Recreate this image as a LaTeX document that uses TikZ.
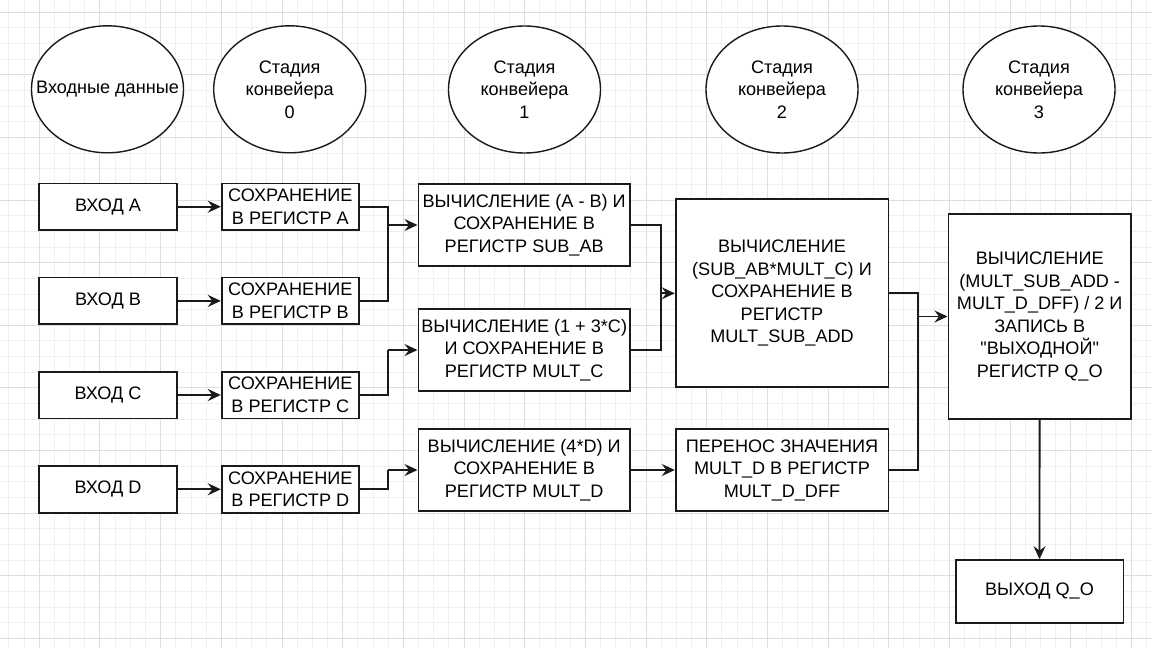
\documentclass[tikz,border=0pt]{standalone}
\usepackage{fontspec}
\setmainfont{Liberation Sans}[Ligatures=TeXOff]
\usetikzlibrary{shapes.geometric,arrows.meta}
\newcommand{\dfont}{\fontsize{18.1}{22.5}\selectfont}
\definecolor{gridmin}{HTML}{F0F0F0}
\definecolor{gridmaj}{HTML}{DEDEDE}
\definecolor{ink}{HTML}{1A1A1A}
\tikzset{
  gminor/.style={draw=gridmin, line width=1pt},
  gmajor/.style={draw=gridmaj, line width=1pt},
  box/.style={draw=ink, line width=1.7pt, fill=white, align=center, inner sep=0pt, font=\dfont, text=black},
  stage/.style={ellipse, draw=ink, line width=1.4pt, fill=white, align=center, inner sep=0pt,
    minimum width=152pt, minimum height=127pt, font=\dfont, text=black},
  wire/.style={draw=ink, line width=1.8pt},
  conn/.style={wire, -{Stealth[length=13pt,width=12pt,inset=4.5pt]}},
}
\begin{document}
\begin{tikzpicture}[x=1pt,y=-1pt]
\useasboundingbox (0,0) rectangle (1152,648);
\fill[white] (0,0) rectangle (1152,648);
\begin{scope}
\clip (0,0) rectangle (1152,648);
\foreach \k in {-2,...,73} \draw[gminor] ({39.3+15.17*\k},0) -- ++(0,648);
\foreach \k in {0,...,40} \draw[gminor] (0,{638.3-15.65*\k}) -- ++(1152,0);
\foreach \m in {0,...,18} \draw[gmajor] ({39.3+60.68*\m},0) -- ++(0,648);
\foreach \m in {0,...,10} \draw[gmajor] (0,{638.3-62.6*\m}) -- ++(1152,0);
\end{scope}

% stage ellipses
\node[stage] (s0) at (107.5,89.3) {\makebox[0pt]{Входные данные}};
\node[stage] (s1) at (289.7,89.3) {Стадия\\конвейера\\0};
\node[stage] (s2) at (524.5,89.5) {Стадия\\конвейера\\1};
\node[stage] (s3) at (782,89.5) {Стадия\\конвейера\\2};
\node[stage] (s4) at (1039,89.5) {Стадия\\конвейера\\3};

% inputs
\node[box, minimum width=137.4pt, minimum height=46.7pt] (inA) at (108,206.7) {ВХОД A};
\node[box, minimum width=137.4pt, minimum height=46.7pt] (inB) at (108,300.9) {ВХОД B};
\node[box, minimum width=137.4pt, minimum height=46.7pt] (inC) at (108,395) {ВХОД C};
\node[box, minimum width=137.4pt, minimum height=46.7pt] (inD) at (108,489.3) {ВХОД D};

% stage 0
\node[box, minimum width=137.3pt, minimum height=46.7pt] (svA) at (290.3,206.7) {СОХРАНЕНИЕ\\В РЕГИСТР A};
\node[box, minimum width=137.3pt, minimum height=46.7pt] (svB) at (290.3,300.9) {СОХРАНЕНИЕ\\В РЕГИСТР B};
\node[box, minimum width=137.3pt, minimum height=46.7pt] (svC) at (290.3,395) {СОХРАНЕНИЕ\\В РЕГИСТР C};
\node[box, minimum width=137.3pt, minimum height=46.7pt] (svD) at (290.3,489.3) {СОХРАНЕНИЕ\\В РЕГИСТР D};

% stage 1
\node[box, minimum width=211.7pt, minimum height=82pt] (sub) at (524.2,225) {ВЫЧИСЛЕНИЕ (A - B) И\\СОХРАНЕНИЕ В\\РЕГИСТР SUB\_AB};
\node[box, minimum width=211.7pt, minimum height=81.4pt] (mc) at (524.2,350) {ВЫЧИСЛЕНИЕ (1 + 3*C)\\И СОХРАНЕНИЕ В\\РЕГИСТР MULT\_C};
\node[box, minimum width=211.7pt, minimum height=82pt] (md) at (524.2,470) {ВЫЧИСЛЕНИЕ (4*D) И\\СОХРАНЕНИЕ В\\РЕГИСТР MULT\_D};

% stage 2
\node[box, minimum width=212.7pt, minimum height=188pt] (msa) at (782,293.3) {ВЫЧИСЛЕНИЕ\\(SUB\_AB*MULT\_C) И\\СОХРАНЕНИЕ В\\РЕГИСТР\\MULT\_SUB\_ADD};
\node[box, minimum width=212.7pt, minimum height=82pt] (dff) at (782,470) {ПЕРЕНОС ЗНАЧЕНИЯ\\MULT\_D В РЕГИСТР\\MULT\_D\_DFF};

% stage 3
\node[box, minimum width=182.7pt, minimum height=204.4pt] (qo) at (1039.7,316.5) {ВЫЧИСЛЕНИЕ\\(MULT\_SUB\_ADD -\\MULT\_D\_DFF) / 2 И\\ЗАПИСЬ В\\"ВЫХОДНОЙ"\\РЕГИСТР Q\_O};
\node[box, minimum width=167.7pt, minimum height=62.7pt] (out) at (1039.5,591.3) {ВЫХОД Q\_O};

% junctions
\coordinate (jAB) at (388.3,225);
\coordinate (jC) at (388.3,350);
\coordinate (jD) at (388.3,470);
\coordinate (jM) at (661.3,293.3);
\coordinate (jQ) at (918.3,316.5);

% connectors
\draw[conn] (inA) -- (svA);
\draw[conn] (inB) -- (svB);
\draw[conn] (inC) -- (svC);
\draw[conn] (inD) -- (svD);

\draw[wire] (svA.east) -| (jAB);
\draw[wire] (svB.east) -| (jAB);
\draw[conn] (jAB) -- (sub.west);
\draw[wire] (svC.east) -| (jC);
\draw[conn] (jC) -- (mc.west);
\draw[wire] (svD.east) -| (jD);
\draw[conn] (jD) -- (md.west);

\draw[wire] (sub.east) -| (jM);
\draw[wire] (mc.east) -| (jM);
\draw[conn] (jM) -- (msa.west);
\draw[conn] (md) -- (dff);

\draw[wire] (msa.east) -| (jQ);
\draw[wire] (dff.east) -| (jQ);
\draw[conn] (jQ) -- (qo.west);

\draw[conn] (qo) -- (out);
\end{tikzpicture}
\end{document}
